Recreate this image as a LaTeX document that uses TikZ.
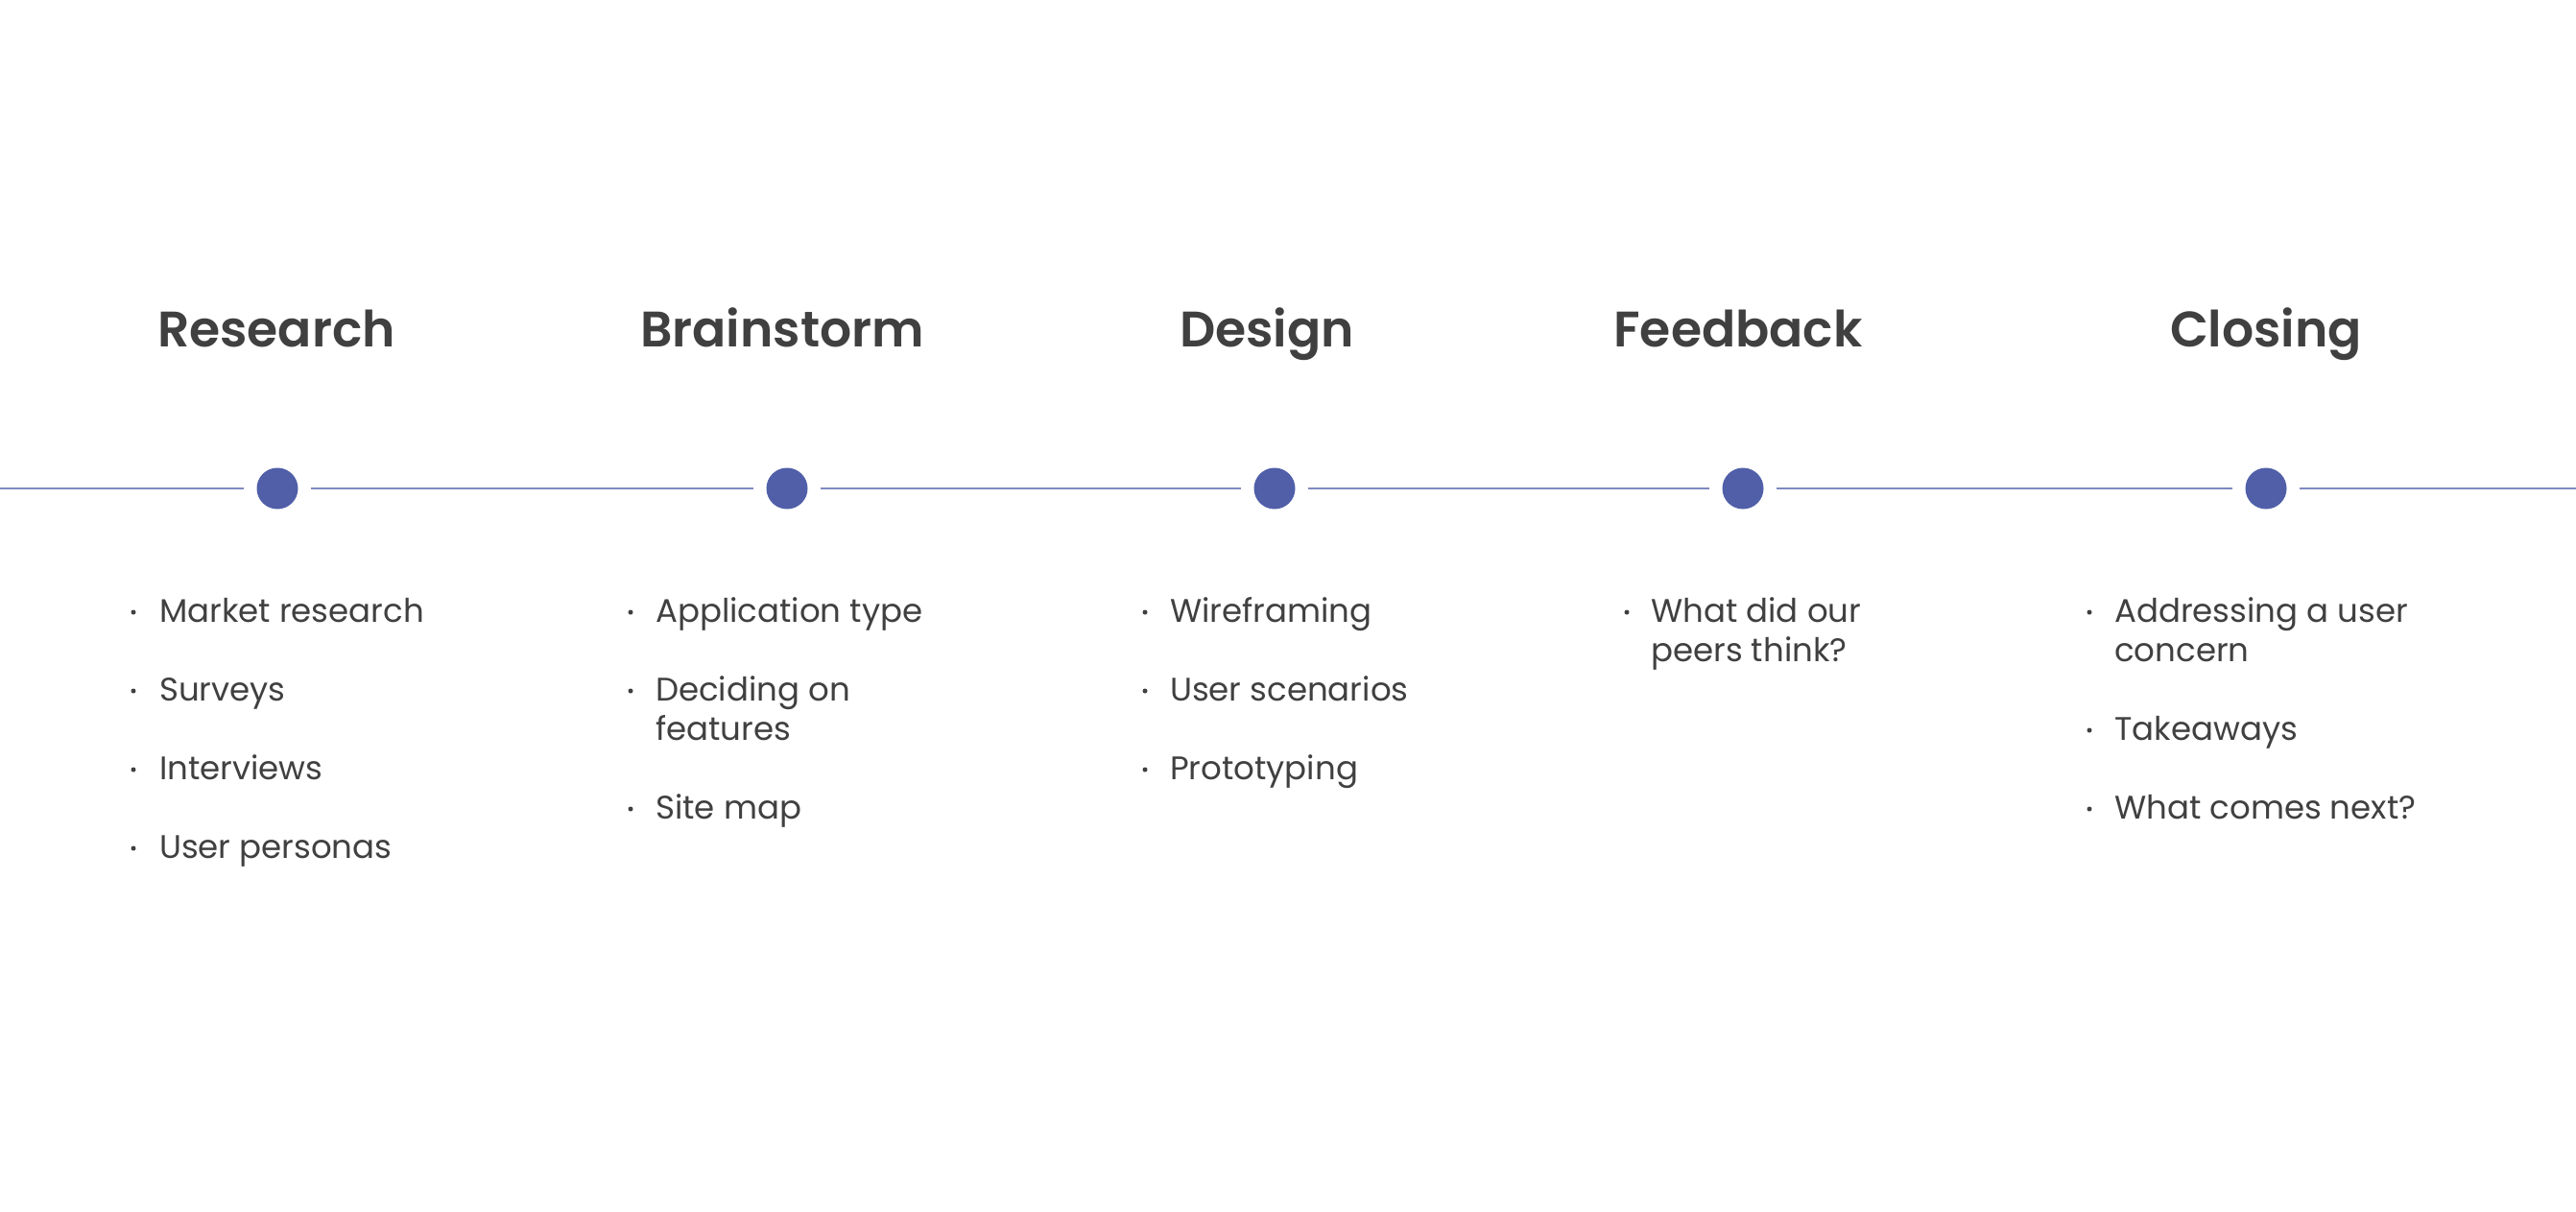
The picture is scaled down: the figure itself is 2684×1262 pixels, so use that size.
\documentclass[tikz,border=0pt]{standalone}
\usepackage{fontspec}
\setmainfont{Poppins}[BoldFont={Poppins SemiBold}]
\definecolor{txt}{HTML}{404040}
\definecolor{dotc}{HTML}{505FA8}
\definecolor{linec}{HTML}{7F89C0}
\begin{document}
\begin{tikzpicture}[x=1pt,y=-1pt,
  head/.style={font=\fontsize{52}{60}\selectfont\bfseries, text=txt, inner sep=0, anchor=base},
  item/.style={font=\fontsize{34}{41}\selectfont, text=txt, inner sep=0, anchor=base west, align=left},
  bul/.style={circle, fill=txt, inner sep=0, minimum size=5pt},
  stage/.style={circle, fill=dotc, inner sep=0, minimum size=43pt, outer sep=13.5pt},
  tl/.style={draw=linec, line width=2pt}]
\useasboundingbox (0,0) rectangle (2684,1262);
\fill[white] (0,0) rectangle (2684,1262);
% headings
\node[head] (h1) at (288,361) {Research};
\node[head] (h2) at (815,361) {Brainstorm};
\node[head] (h3) at (1320,361) {Design};
\node[head] (h4) at (1811,361) {Feedback};
\node[head] (h5) at (2361,361) {Closing};
% timeline
\coordinate (L) at (0,509);
\coordinate (R) at (2684,509);
\node[stage] (c1) at (289,509) {};
\node[stage] (c2) at (820,509) {};
\node[stage] (c3) at (1328,509) {};
\node[stage] (c4) at (1816,509) {};
\node[stage] (c5) at (2361,509) {};
\draw[tl] (L) -- (c1);
\draw[tl] (c1) -- (c2);
\draw[tl] (c2) -- (c3);
\draw[tl] (c3) -- (c4);
\draw[tl] (c4) -- (c5);
\draw[tl] (c5) -- (R);
% Research items
\node[bul] (b11) at (139,638) {}; \node[item] (i11) at (166,648) {Market research};
\node[bul] (b12) at (139,720) {}; \node[item] (i12) at (166,730) {Surveys};
\node[bul] (b13) at (139,802) {}; \node[item] (i13) at (166,812) {Interviews};
\node[bul] (b14) at (139,884) {}; \node[item] (i14) at (166,894) {User personas};
% Brainstorm items (multi-line nodes: base = last line)
\node[bul] (b21) at (657,638) {}; \node[item] (i21) at (683,648) {Application type};
\node[bul] (b22) at (657,720) {}; \node[item] (i22) at (683,771) {Deciding on\\features};
\node[bul] (b23) at (657,843) {}; \node[item] (i23) at (683,853) {Site map};
% Design items
\node[bul] (b31) at (1193,638) {}; \node[item] (i31) at (1219,648) {Wireframing};
\node[bul] (b32) at (1193,720) {}; \node[item] (i32) at (1219,730) {User scenarios};
\node[bul] (b33) at (1193,802) {}; \node[item] (i33) at (1219,812) {Prototyping};
% Feedback items
\node[bul] (b41) at (1695,638) {}; \node[item] (i41) at (1720,689) {What did our\\peers think?};
% Closing items
\node[bul] (b51) at (2177,638) {}; \node[item] (i51) at (2203,689) {Addressing a user\\concern};
\node[bul] (b52) at (2177,761) {}; \node[item] (i52) at (2203,771) {Takeaways};
\node[bul] (b53) at (2177,843) {}; \node[item] (i53) at (2203,853) {What comes next?};
\end{tikzpicture}
\end{document}
